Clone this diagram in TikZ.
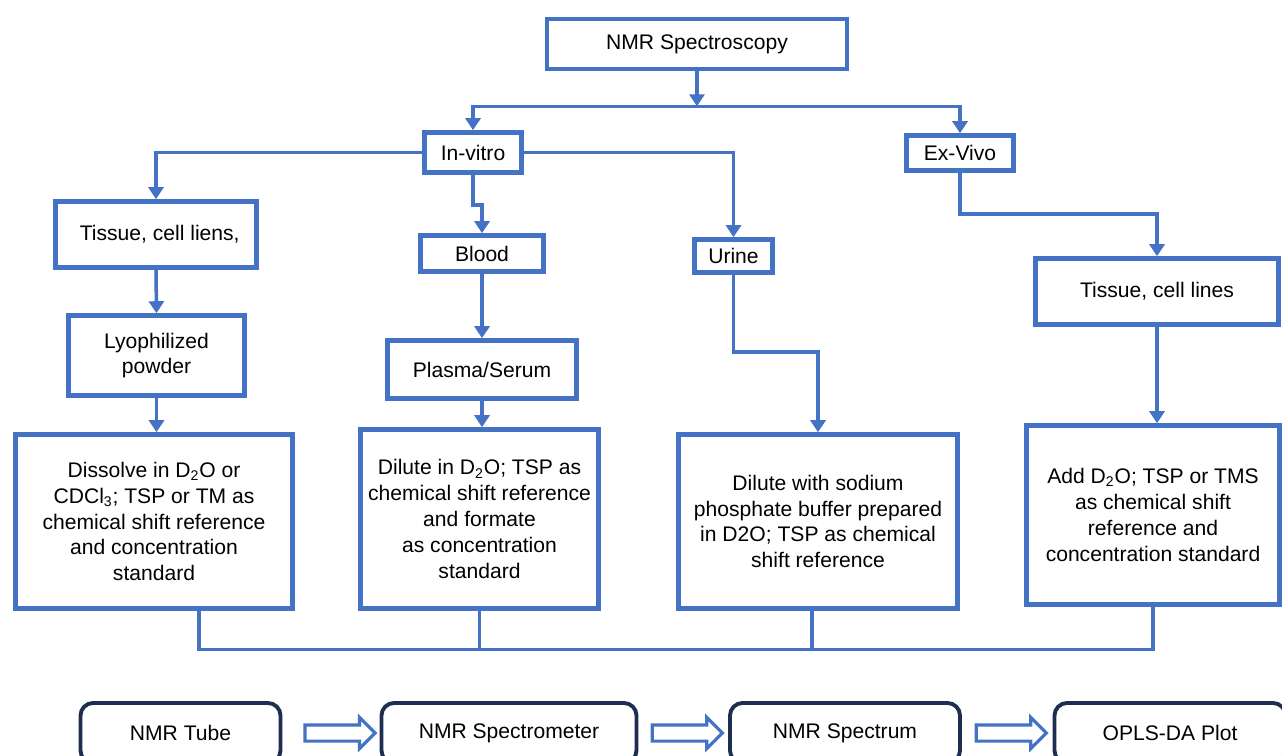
\documentclass[tikz,border=0pt]{standalone}
\usepackage{fontspec}
\setmainfont{Liberation Sans}
\usepackage{tikz}
\usetikzlibrary{shapes.arrows,arrows.meta,positioning,calc}
\definecolor{flowblue}{RGB}{68,114,196}
\definecolor{darknavy}{RGB}{30,46,80}

\begin{document}
\begin{tikzpicture}[
    box/.style={draw=flowblue, line width=2.6pt, fill=white, align=center, inner sep=2pt, font=\fontsize{12}{14.7}\selectfont},
    stage/.style={draw=darknavy, line width=2.2pt, rounded corners=0.25cm, fill=white, minimum height=1.2cm, font=\fontsize{12}{14.7}\selectfont},
    arr/.style={-{Triangle[length=0.24cm,width=0.3cm]}, draw=flowblue, line width=2pt},
    link/.style={draw=flowblue, line width=1.8pt},
    hollow/.style={single arrow, draw=flowblue, fill=white, line width=1.8pt, minimum height=1.4cm, single arrow head extend=0.15cm, inner sep=0pt}
]
\path[use as bounding box, clip] (0,0) rectangle (25.64,-15.1);

\node[box, minimum width=6cm, minimum height=1cm] (spec) at (13.94,-0.88) {NMR Spectroscopy};
\node[box, minimum width=1.94cm, minimum height=0.8cm] (vitro) at (9.46,-3.05) {In-vitro};
\node[box, minimum width=2.14cm, minimum height=0.7cm] (vivo) at (19.2,-3.06) {Ex-Vivo};

\node[box, minimum width=4.02cm, minimum height=1.32cm] (tisA) at (3.12,-4.69) {\hspace{0.15cm}Tissue, cell liens,};
\node[box, minimum width=2.46cm, minimum height=0.72cm] (blood) at (9.64,-5.07) {Blood};
\node[box, minimum width=1.56cm, minimum height=0.66cm] (urine) at (14.67,-5.12) {Urine};
\node[box, minimum width=4.86cm, minimum height=1.32cm] (tisB) at (23.14,-5.83) {Tissue, cell lines};

\node[box, minimum width=3.52cm, minimum height=1.6cm] (lyo) at (3.13,-7.11) {Lyophilized\\powder};
\node[box, minimum width=3.78cm, minimum height=1.16cm] (plasma) at (9.64,-7.39) {Plasma/Serum};

\node[box, minimum width=5.54cm, minimum height=3.48cm] (dis) at (3.08,-10.43)
    {Dissolve in D\textsubscript{2}O or\\CDCl\textsubscript{3}; TSP or TM as\\chemical shift reference\\and concentration\\standard};
\node[box, minimum width=4.76cm, minimum height=3.58cm] (dil) at (9.59,-10.38)
    {Dilute in D\textsubscript{2}O; TSP as\\chemical shift reference\\and formate\\as concentration\\standard};
\node[box, minimum width=5.58cm, minimum height=3.48cm] (sod) at (16.36,-10.43)
    {Dilute with sodium\\phosphate buffer prepared\\in D2O; TSP as chemical\\shift reference};
\node[box, minimum width=5.06cm, minimum height=3.58cm] (add) at (23.06,-10.3)
    {Add D\textsubscript{2}O; TSP or TMS\\as chemical shift\\reference and\\concentration standard};

\node[stage, minimum width=4cm] (tube) at (3.61,-14.66) {NMR Tube};
\node[stage, minimum width=5.1cm] (spmeter) at (10.18,-14.66) {NMR Spectrometer};
\node[stage, minimum width=4.6cm] (spectrum) at (16.9,-14.66) {NMR Spectrum};
\node[stage, minimum width=4.62cm] (opls) at (23.4,-14.66) {OPLS-DA Plot};

\coordinate (split) at ($(spec.south)+(0,-0.7)$);
\coordinate (merge) at ($(dis.south)+(0,-0.78)$);

\draw[arr] (spec.south) -- (split);
\draw[arr] (split) -| (vitro.north);
\draw[arr] (split) -| (vivo.north);

\draw[arr] (vitro.west) -| (tisA.north);
\draw[arr] (vitro.east) -| (urine.north);
\draw[arr] (vitro.south) -- ++(0,-0.6) -| (blood.north);
\draw[arr] (vivo.south) -- ++(0,-0.82) -| (tisB.north);

\draw[arr] (tisA.south) -- (lyo.north);
\draw[arr] (lyo.south) -- (lyo.south |- dis.north);
\draw[arr] (blood.south) -- (plasma.north);
\draw[arr] (plasma.south) -- (plasma.south |- dil.north);
\draw[arr] (urine.south) -- ++(0,-1.54) -| (sod.north);
\draw[arr] (tisB.south) -- (tisB.south |- add.north);

\draw[link] ([xshift=0.9cm]dis.south) |- (merge -| add.south) -- (add.south);
\draw[link] (dil.south) -- (dil.south |- merge);
\draw[link] ([xshift=-0.12cm]sod.south) -- ([xshift=-0.12cm]sod.south |- merge);

\path (tube.east) -- node[hollow, xshift=0.1cm] (h1) {\rule{0pt}{0.26cm}} (spmeter.west);
\path (spmeter.east) -- node[hollow] (h2) {\rule{0pt}{0.26cm}} (spectrum.west);
\path (spectrum.east) -- node[hollow] (h3) {\rule{0pt}{0.26cm}} (opls.west);
\end{tikzpicture}
\end{document}
